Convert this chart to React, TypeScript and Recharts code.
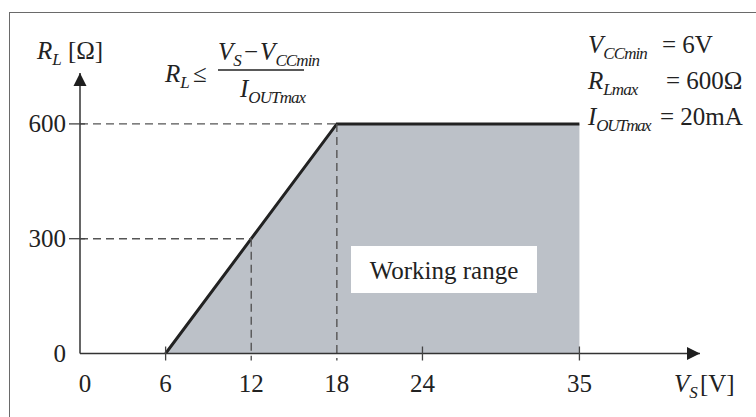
import React from "react";
import { ComposedChart, Area, XAxis, YAxis, ReferenceLine, ReferenceDot } from "recharts";

// load line corners: supply voltage (V) vs max load resistance (ohm)
const vsPoints = [6, 18, 35];
const rlPoints = [0, 600, 600];
const xTicks = [0, 6, 12, 18, 24, 35];
const yTicks = [0, 300, 600];
const X_MAX = 43.45;
const Y_MAX = 733;

const chartData = vsPoints.map((vs, i) => ({ vs, rl: rlPoints[i] }));

const FONT = "'Liberation Serif', 'Times New Roman', serif";
const INK = "#222";
const FS = 25;
const SUB = 17;

const XTick = (props: any) => {
  const { x, y, payload } = props;
  const v = payload.value;
  const showMark = v !== 0 && v !== 12 && v !== 18;
  return (
    <g>
      {showMark && <line x1={x} x2={x} y1={y - 7} y2={y + 7} stroke="#444" strokeWidth={1.3} />}
      <text x={x + (v === 0 ? 5 : 0)} y={y + 38} textAnchor="middle" fontFamily={FONT} fontSize={FS} fill={INK}>
        {v}
      </text>
    </g>
  );
};

const YTick = (props: any) => {
  const { x, y, payload } = props;
  const v = payload.value;
  return (
    <g>
      {v !== 0 && <line x1={x - 11} x2={x + 5} y1={y} y2={y} stroke="#444" strokeWidth={1.3} />}
      <text x={x - 14} y={y + 8} textAnchor="end" fontFamily={FONT} fontSize={FS} fill={INK}>
        {v}
      </text>
    </g>
  );
};

const ArrowRight = (p: any) => (
  <polygon points={`${p.cx},${p.cy} ${p.cx - 13},${p.cy - 6.5} ${p.cx - 13},${p.cy + 6.5}`} fill="#1e1e1e" />
);
const ArrowUp = (p: any) => (
  <polygon points={`${p.cx},${p.cy} ${p.cx - 6.5},${p.cy + 13} ${p.cx + 6.5},${p.cy + 13}`} fill="#1e1e1e" />
);

const dash = { stroke: "#555", strokeWidth: 1.4, strokeDasharray: "8 5" };

// italic main letter with a condensed italic subscript
const Sym = ({ main, sub, squeeze = -0.9 }: { main: string; sub: string; squeeze?: number }) => (
  <>
    <tspan fontStyle="italic">{main}</tspan>
    <tspan fontStyle="italic" fontSize={SUB} dy={6} letterSpacing={squeeze}>{sub}</tspan>
    <tspan dy={-6}>{"\u200a"}</tspan>
  </>
);

export default function App() {
  return (
    <div style={{ position: "absolute", left: 0, top: 0, width: 756, height: 417, overflow: "hidden", background: "#fff" }}>
      <div style={{ position: "absolute", left: 9, top: 12, width: 800, height: 500, borderTop: "1.6px solid #6a6a6a", borderLeft: "1.6px solid #6a6a6a" }} />
      <ComposedChart
        width={756}
        height={417}
        data={chartData}
        margin={{ top: 73, right: 56, bottom: 23.5, left: 20 }}
        style={{ position: "absolute", left: 0, top: 0 }}
      >
        <XAxis
          dataKey="vs"
          type="number"
          domain={[0, X_MAX]}
          ticks={xTicks}
          allowDataOverflow
          height={40}
          tickSize={0}
          tickMargin={0}
          tickLine={false}
          axisLine={{ stroke: "#333", strokeWidth: 1.5 }}
          tick={<XTick />}
          interval={0}
        />
        <YAxis
          type="number"
          domain={[0, Y_MAX]}
          ticks={yTicks}
          allowDataOverflow
          width={60}
          tickSize={0}
          tickMargin={0}
          tickLine={false}
          axisLine={{ stroke: "#333", strokeWidth: 1.5 }}
          tick={<YTick />}
          interval={0}
        />
        <Area
          dataKey="rl"
          type="linear"
          baseValue={0}
          fill="#bcc1c8"
          fillOpacity={1}
          stroke="none"
          isAnimationActive={false}
        />
        <ReferenceLine segment={[{ x: 0, y: 600 }, { x: 18, y: 600 }]} ifOverflow="visible" {...dash} />
        <ReferenceLine segment={[{ x: 18, y: 600 }, { x: 18, y: -18 }]} ifOverflow="visible" {...dash} />
        <ReferenceLine segment={[{ x: 0, y: 300 }, { x: 12, y: 300 }]} ifOverflow="visible" {...dash} />
        <ReferenceLine segment={[{ x: 12, y: 300 }, { x: 12, y: -18 }]} ifOverflow="visible" {...dash} />
        <Area
          dataKey="rl"
          type="linear"
          baseValue={0}
          fill="none"
          stroke="#222"
          strokeWidth={3}
          isAnimationActive={false}
        />
        <ReferenceDot x={X_MAX} y={0} ifOverflow="visible" shape={<ArrowRight />} />
        <ReferenceDot x={0} y={Y_MAX} ifOverflow="visible" shape={<ArrowUp />} />
      </ComposedChart>
      <svg width={756} height={417} style={{ position: "absolute", left: 0, top: 0, pointerEvents: "none" }} fontFamily={FONT} fill={INK} fontSize={FS}>
        {/* axis titles */}
        <text x={37} y={59}>
          <Sym main="R" sub="L" />
          <tspan dx={5}>[Ω]</tspan>
        </text>
        <text x={674} y={392}>
          <Sym main="V" sub="S" />
          <tspan dx={1}>[V]</tspan>
        </text>
        {/* formula */}
        <text x={165} y={82}>
          <Sym main="R" sub="L" />
          <tspan dx={2}>≤</tspan>
        </text>
        <line x1={218} x2={304} y1={70} y2={70} stroke={INK} strokeWidth={1.3} />
        <text x={218} y={60}>
          <Sym main="V" sub="S" />
          <tspan dx={1}>−</tspan>
          <tspan dx={2} fontStyle="italic">V</tspan>
          <tspan fontStyle="italic" fontSize={SUB} dy={6} letterSpacing={-0.9}>CCmin</tspan>
        </text>
        <text x={240} y={97}>
          <Sym main="I" sub="OUTmax" />
        </text>
        {/* parameters */}
        <text x={588} y={53}>
          <Sym main="V" sub="CCmin" />
        </text>
        <text x={662} y={53}>= 6V</text>
        <text x={588} y={89}>
          <Sym main="R" sub="Lmax" />
        </text>
        <text x={666} y={89}>= 600Ω</text>
        <text x={588} y={125}>
          <Sym main="I" sub="OUTmax" squeeze={-1.4} />
        </text>
        <text x={660} y={125}>= 20mA</text>
        {/* working range label */}
        <rect x={351} y={246} width={186} height={47} fill="#fff" />
        <text x={444} y={279} textAnchor="middle">Working range</text>
      </svg>
    </div>
  );
}
